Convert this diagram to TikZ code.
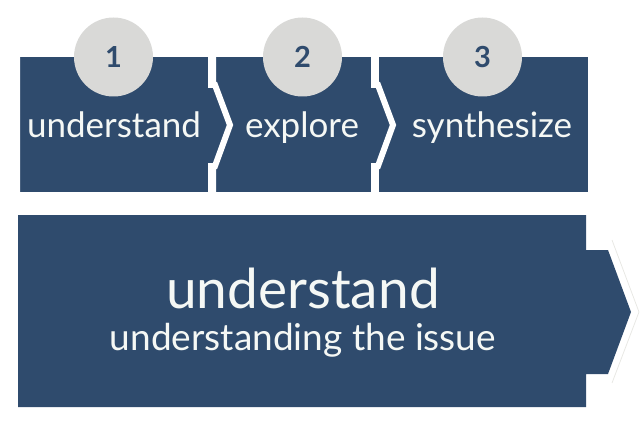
\documentclass[tikz,border=0pt]{standalone}
\usepackage{fontspec}
\setmainfont{Lato}
\definecolor{navy}{HTML}{2F4B6D}
\definecolor{disc}{HTML}{D9D9D7}
\definecolor{txt}{HTML}{F5F8F5}
\definecolor{faint}{HTML}{E8E8E4}
\begin{document}
\begin{tikzpicture}[x=1pt,y=-1pt,
  stage/.style={fill=navy,draw=white,line width=6pt,line join=miter},
  numdisc/.style={circle,fill=disc,minimum size=79pt,inner sep=0pt,text=navy,font=\bfseries\fontsize{29}{34}\selectfont},
  label/.style={text=txt,anchor=base,inner sep=0pt,font=\fontsize{35}{42}\selectfont},
  biglabel/.style={text=txt,anchor=base,inner sep=0pt,font=\fontsize{55}{64}\selectfont},
  sublabel/.style={text=txt,anchor=base,inner sep=0pt,font=\fontsize{37}{44}\selectfont}]
\useasboundingbox (0,0) rectangle (643,436);
% stage 3
\fill[navy] (379,57) rectangle (588,192);
% stage 2
\path[stage] (213,54) -- (374,54) -- (374,85) -- (378,85) -- (393,125)
  -- (378,166) -- (374,166) -- (374,195) -- (213,195) -- cycle;
% stage 1
\path[stage] (17,54) -- (211,54) -- (211,85) -- (215,85) -- (230,125)
  -- (215,166) -- (211,166) -- (211,195) -- (17,195) -- cycle;
% discs
\node[numdisc] (n1) at (113.5,57) {1};
\node[numdisc] (n2) at (302.5,57) {2};
\node[numdisc] (n3) at (482.5,57) {3};
% stage labels
\node[label] (l1) at (114,137) {understand};
\node[label] (l2) at (302,137) {explore};
\node[label] (l3) at (492,137) {synthesize};
% big panel
\draw[faint,line width=0.8pt] (612,240) -- (639,312) -- (612,383);
\fill[navy] (18,215) -- (586,215) -- (586,250) -- (608,250) -- (631,312) -- (608,374)
  -- (586,374) -- (586,407) -- (18,407) -- cycle;
\node[biglabel] (big) at (303,308) {understand};
\node[sublabel] (sub) at (303,350) {understanding the issue};
\end{tikzpicture}
\end{document}
